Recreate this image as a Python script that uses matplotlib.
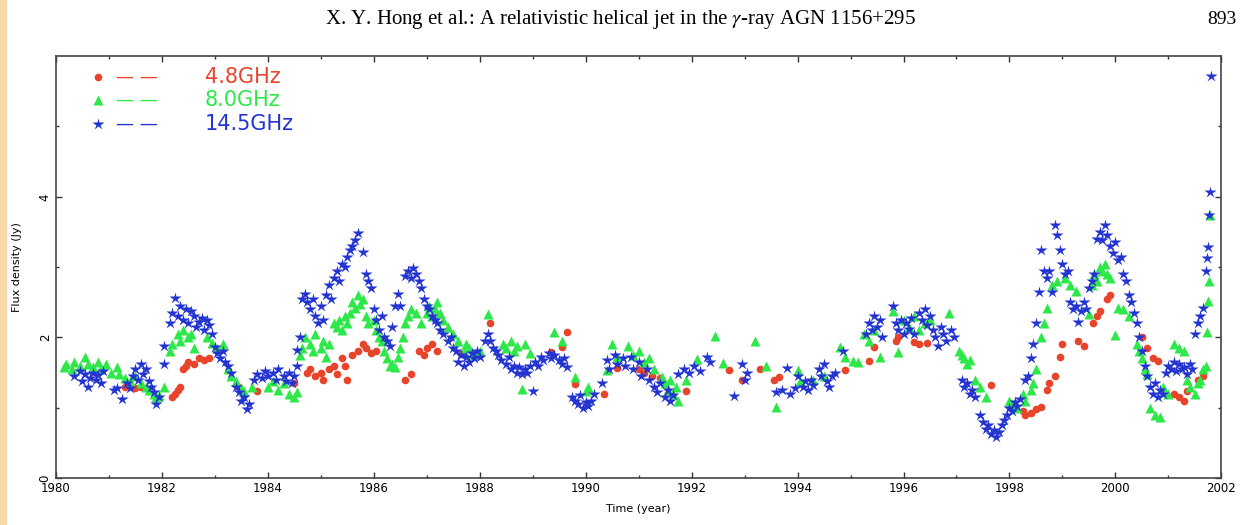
import matplotlib.pyplot as plt
from matplotlib.patches import Rectangle
from matplotlib.ticker import FixedLocator, MultipleLocator

plt.rcParams['font.family'] = 'DejaVu Sans'
plt.rcParams['mathtext.fontset'] = 'stix'

# Values (year, flux density in Jy)
red_t = [1981.3, 1981.4, 1981.5, 1981.6, 1982.2, 1982.25, 1982.3, 1982.35, 1982.4, 1982.45,
         1982.5, 1982.6, 1982.7, 1982.8, 1982.9, 1983.45, 1983.8, 1984.5, 1984.75, 1984.8,
         1984.9, 1985.0, 1985.05, 1985.15, 1985.25, 1985.3, 1985.4, 1985.45, 1985.5, 1985.6,
         1985.7, 1985.8, 1985.85, 1985.95, 1986.05, 1986.6, 1986.7, 1986.85, 1986.95, 1987.0,
         1987.1, 1987.2, 1987.65, 1988.2, 1989.35, 1989.55, 1989.65, 1989.8, 1990.35, 1990.6,
         1991.0, 1991.1, 1991.25, 1991.4, 1991.9, 1992.7, 1992.95, 1993.3, 1993.55, 1993.65,
         1994.9, 1995.35, 1995.45, 1995.85, 1995.9, 1996.2, 1996.3, 1996.45, 1997.65, 1998.25,
         1998.3, 1998.4, 1998.5, 1998.6, 1998.7, 1998.75, 1998.85, 1998.95, 1999.0, 1999.3,
         1999.4, 1999.57, 1999.65, 1999.7, 1999.85, 1999.9, 2000.5, 2000.6, 2000.7, 2000.8,
         2001.1, 2001.2, 2001.3, 2001.35, 2001.55, 2001.65]
red_s = [1.30, 1.32, 1.28, 1.30, 1.15, 1.20, 1.25, 1.29, 1.55, 1.60,
         1.65, 1.62, 1.70, 1.68, 1.70, 1.30, 1.24, 1.35, 1.50, 1.55,
         1.45, 1.50, 1.40, 1.55, 1.60, 1.48, 1.70, 1.60, 1.40, 1.75,
         1.80, 1.90, 1.85, 1.78, 1.80, 1.40, 1.48, 1.80, 1.75, 1.85,
         1.90, 1.80, 1.76, 2.21, 1.79, 1.86, 2.07, 1.34, 1.20, 1.57,
         1.55, 1.50, 1.45, 1.42, 1.24, 1.53, 1.39, 1.55, 1.40, 1.43,
         1.53, 1.67, 1.86, 1.95, 2.00, 1.93, 1.90, 1.92, 1.32, 0.95,
         0.90, 0.92, 0.98, 1.01, 1.25, 1.35, 1.45, 1.72, 1.90, 1.95,
         1.88, 2.20, 2.30, 2.37, 2.55, 2.61, 2.00, 1.85, 1.70, 1.67,
         1.20, 1.15, 1.10, 1.24, 1.40, 1.45]

green_t = [1980.15, 1980.2, 1980.3, 1980.35, 1980.45, 1980.55, 1980.6, 1980.7, 1980.8, 1980.85,
           1980.95, 1981.05, 1981.15, 1981.2, 1981.3, 1981.4, 1981.5, 1981.6, 1981.7, 1981.75,
           1981.85, 1981.9, 1981.95, 1982.05, 1982.15, 1982.2, 1982.3, 1982.35, 1982.4, 1982.5,
           1982.55, 1982.6, 1982.85, 1982.95, 1983.05, 1983.15, 1983.25, 1983.3, 1983.4, 1983.5,
           1983.55, 1983.7, 1984.0, 1984.1, 1984.2, 1984.3, 1984.4, 1984.5, 1984.55, 1984.6,
           1984.65, 1984.7, 1984.8, 1984.85, 1984.9, 1985.0, 1985.05, 1985.1, 1985.15, 1985.25,
           1985.3, 1985.35, 1985.4, 1985.45, 1985.5, 1985.55, 1985.6, 1985.65, 1985.7, 1985.75,
           1985.8, 1985.85, 1985.9, 1986.0, 1986.05, 1986.1, 1986.15, 1986.2, 1986.25, 1986.3,
           1986.35, 1986.4, 1986.45, 1986.5, 1986.55, 1986.6, 1986.65, 1986.7, 1986.8, 1986.9,
           1987.0, 1987.05, 1987.1, 1987.15, 1987.2, 1987.25, 1987.3, 1987.4, 1987.5, 1987.6,
           1987.7, 1987.75, 1987.8, 1987.9, 1988.0, 1988.15, 1988.45, 1988.5, 1988.6, 1988.65,
           1988.7, 1988.8, 1988.85, 1988.95, 1989.4, 1989.55, 1989.8, 1990.0, 1990.05, 1990.4,
           1990.5, 1990.6, 1990.8, 1990.9, 1991.0, 1991.1, 1991.2, 1991.3, 1991.45, 1991.5,
           1991.55, 1991.6, 1991.65, 1991.7, 1991.75, 1991.9, 1992.1, 1992.45, 1992.6, 1993.2,
           1993.4, 1993.6, 1994.0, 1994.05, 1994.3, 1994.5, 1994.8, 1994.9, 1995.05, 1995.15,
           1995.25, 1995.35, 1995.45, 1995.55, 1995.8, 1995.9, 1996.0, 1996.1, 1996.2, 1996.3,
           1996.4, 1996.5, 1996.85, 1997.05, 1997.1, 1997.15, 1997.2, 1997.25, 1997.35, 1997.45,
           1997.55, 1998.0, 1998.05, 1998.15, 1998.25, 1998.3, 1998.4, 1998.45, 1998.5, 1998.6,
           1998.65, 1998.7, 1998.8, 1998.9, 1999.05, 1999.15, 1999.25, 1999.5, 1999.55, 1999.6,
           1999.65, 1999.7, 1999.75, 1999.8, 1999.85, 1999.9, 2000.0, 2000.05, 2000.15, 2000.25,
           2000.4, 2000.45, 2000.5, 2000.55, 2000.6, 2000.65, 2000.75, 2000.85, 2000.9, 2001.0,
           2001.1, 2001.2, 2001.3, 2001.35, 2001.4, 2001.5, 2001.55, 2001.6, 2001.65, 2001.7,
           2001.72, 2001.74, 2001.76, 2001.78]
green_s = [1.58, 1.62, 1.55, 1.65, 1.60, 1.72, 1.62, 1.58, 1.65, 1.55,
           1.62, 1.50, 1.58, 1.48, 1.42, 1.38, 1.45, 1.35, 1.30, 1.25,
           1.20, 1.15, 1.18, 1.30, 1.80, 1.90, 2.05, 1.95, 2.10, 2.00,
           2.05, 1.85, 2.00, 1.92, 1.85, 1.90, 1.55, 1.45, 1.38, 1.28,
           1.24, 1.30, 1.30, 1.38, 1.25, 1.35, 1.20, 1.15, 1.22, 1.75,
           1.85, 2.00, 1.90, 1.80, 2.05, 1.85, 1.95, 1.72, 1.90, 2.20,
           2.15, 2.25, 2.10, 2.30, 2.20, 2.35, 2.50, 2.42, 2.60, 2.48,
           2.55, 2.30, 2.20, 2.25, 2.10, 2.00, 1.95, 1.80, 1.70, 1.60,
           1.62, 1.58, 1.72, 1.85, 2.00, 2.20, 2.30, 2.40, 2.35, 2.20,
           2.35, 2.45, 2.30, 2.40, 2.50, 2.35, 2.25, 2.15, 2.05, 1.95,
           1.80, 1.90, 1.85, 1.75, 1.80, 2.33, 1.90, 1.85, 1.95, 1.80,
           1.88, 1.27, 1.90, 1.78, 2.07, 1.95, 1.43, 1.24, 1.30, 1.53,
           1.90, 1.72, 1.88, 1.75, 1.80, 1.65, 1.70, 1.55, 1.43, 1.35,
           1.25, 1.40, 1.20, 1.30, 1.10, 1.39, 1.69, 2.02, 1.64, 1.95,
           1.60, 1.01, 1.53, 1.38, 1.40, 1.45, 1.86, 1.72, 1.67, 1.65,
           2.05, 1.95, 2.10, 1.72, 2.37, 1.79, 2.25, 2.15, 2.30, 2.10,
           2.20, 2.25, 2.35, 1.80, 1.75, 1.70, 1.62, 1.68, 1.40, 1.30,
           1.15, 1.10, 1.05, 1.00, 1.20, 1.10, 1.25, 1.35, 1.55, 2.00,
           2.20, 2.42, 2.75, 2.80, 2.85, 2.75, 2.66, 2.33, 2.75, 2.90,
           2.80, 3.00, 2.95, 3.05, 2.90, 2.85, 2.04, 2.42, 2.40, 2.30,
           1.90, 1.80, 1.70, 1.55, 1.48, 1.00, 0.90, 0.87, 1.30, 1.20,
           1.90, 1.85, 1.80, 1.40, 1.30, 1.20, 1.35, 1.40, 1.55, 1.60,
           2.07, 2.52, 2.80, 3.74]

blue_t = [1980.35, 1980.45, 1980.5, 1980.55, 1980.6, 1980.65, 1980.7, 1980.75, 1980.8, 1980.85,
          1980.9, 1981.1, 1981.15, 1981.25, 1981.35, 1981.4, 1981.45, 1981.5, 1981.55, 1981.6,
          1981.65, 1981.7, 1981.75, 1981.8, 1981.85, 1981.9, 1981.95, 1982.05, 1982.05, 1982.15,
          1982.2, 1982.25, 1982.3, 1982.35, 1982.4, 1982.45, 1982.5, 1982.55, 1982.6, 1982.65,
          1982.7, 1982.75, 1982.8, 1982.85, 1982.9, 1982.95, 1983.0, 1983.05, 1983.1, 1983.15,
          1983.2, 1983.25, 1983.3, 1983.4, 1983.45, 1983.5, 1983.55, 1983.6, 1983.65, 1983.75,
          1983.8, 1983.9, 1983.95, 1984.0, 1984.1, 1984.15, 1984.2, 1984.3, 1984.35, 1984.4,
          1984.45, 1984.5, 1984.55, 1984.55, 1984.6, 1984.65, 1984.7, 1984.75, 1984.8, 1984.85,
          1984.9, 1984.95, 1985.0, 1985.05, 1985.1, 1985.15, 1985.2, 1985.25, 1985.3, 1985.35,
          1985.4, 1985.45, 1985.5, 1985.55, 1985.6, 1985.65, 1985.7, 1985.8, 1985.85, 1985.9,
          1985.95, 1986.0, 1986.05, 1986.1, 1986.15, 1986.2, 1986.25, 1986.3, 1986.35, 1986.4,
          1986.45, 1986.5, 1986.6, 1986.65, 1986.7, 1986.75, 1986.8, 1986.85, 1986.9, 1986.95,
          1987.0, 1987.05, 1987.1, 1987.15, 1987.2, 1987.25, 1987.3, 1987.4, 1987.45, 1987.5,
          1987.55, 1987.6, 1987.65, 1987.7, 1987.75, 1987.8, 1987.85, 1987.9, 1987.95, 1988.0,
          1988.1, 1988.15, 1988.2, 1988.25, 1988.3, 1988.35, 1988.4, 1988.5, 1988.55, 1988.6,
          1988.65, 1988.7, 1988.75, 1988.8, 1988.85, 1988.9, 1988.95, 1989.0, 1989.05, 1989.1,
          1989.15, 1989.2, 1989.3, 1989.35, 1989.4, 1989.5, 1989.55, 1989.6, 1989.65, 1989.75,
          1989.8, 1989.85, 1989.9, 1989.95, 1990.0, 1990.05, 1990.1, 1990.15, 1990.3, 1990.4,
          1990.45, 1990.55, 1990.6, 1990.7, 1990.75, 1990.85, 1990.9, 1991.0, 1991.05, 1991.15,
          1991.2, 1991.3, 1991.35, 1991.4, 1991.5, 1991.55, 1991.6, 1991.65, 1991.75, 1991.85,
          1991.95, 1992.05, 1992.15, 1992.3, 1992.35, 1992.8, 1992.95, 1993.0, 1993.05, 1993.6,
          1993.7, 1993.8, 1993.85, 1993.95, 1994.0, 1994.1, 1994.15, 1994.2, 1994.25, 1994.3,
          1994.4, 1994.45, 1994.5, 1994.55, 1994.6, 1994.65, 1994.7, 1994.85, 1995.3, 1995.35,
          1995.4, 1995.45, 1995.5, 1995.55, 1995.6, 1995.8, 1995.85, 1995.9, 1995.95, 1996.0,
          1996.05, 1996.1, 1996.15, 1996.2, 1996.3, 1996.35, 1996.4, 1996.45, 1996.5, 1996.55,
          1996.6, 1996.65, 1996.7, 1996.75, 1996.8, 1996.9, 1996.95, 1997.1, 1997.15, 1997.2,
          1997.25, 1997.3, 1997.35, 1997.45, 1997.5, 1997.55, 1997.6, 1997.65, 1997.7, 1997.75,
          1997.8, 1997.85, 1997.9, 1997.95, 1998.0, 1998.05, 1998.1, 1998.15, 1998.2, 1998.3,
          1998.35, 1998.4, 1998.45, 1998.5, 1998.55, 1998.6, 1998.65, 1998.7, 1998.75, 1998.8,
          1998.85, 1998.9, 1998.95, 1999.0, 1999.05, 1999.1, 1999.15, 1999.2, 1999.25, 1999.3,
          1999.35, 1999.4, 1999.45, 1999.5, 1999.55, 1999.6, 1999.65, 1999.7, 1999.75, 1999.8,
          1999.85, 1999.9, 1999.95, 2000.0, 2000.05, 2000.1, 2000.15, 2000.2, 2000.25, 2000.3,
          2000.35, 2000.4, 2000.45, 2000.5, 2000.55, 2000.6, 2000.65, 2000.7, 2000.75, 2000.8,
          2000.85, 2000.9, 2000.95, 2001.0, 2001.05, 2001.1, 2001.15, 2001.2, 2001.25, 2001.3,
          2001.35, 2001.4, 2001.45, 2001.5, 2001.55, 2001.6, 2001.65, 2001.7, 2001.72, 2001.74,
          2001.76, 2001.78, 2001.8]
blue_s = [1.45, 1.52, 1.38, 1.48, 1.30, 1.42, 1.50, 1.40, 1.46, 1.35,
          1.52, 1.25, 1.28, 1.13, 1.35, 1.28, 1.45, 1.55, 1.40, 1.62,
          1.48, 1.55, 1.38, 1.30, 1.22, 1.05, 1.15, 1.62, 1.88, 2.20,
          2.35, 2.56, 2.30, 2.45, 2.25, 2.40, 2.20, 2.38, 2.30, 2.15,
          2.22, 2.28, 2.10, 2.25, 2.18, 2.05, 1.86, 1.78, 1.70, 1.80,
          1.65, 1.60, 1.50, 1.30, 1.22, 1.10, 1.15, 0.98, 1.05, 1.40,
          1.48, 1.42, 1.52, 1.45, 1.50, 1.40, 1.55, 1.45, 1.38, 1.50,
          1.35, 1.45, 1.60, 1.82, 2.00, 2.55, 2.62, 2.50, 2.40, 2.55,
          2.30, 2.20, 2.45, 2.25, 2.60, 2.75, 2.55, 2.85, 2.95, 2.80,
          3.05, 3.00, 3.15, 3.25, 3.30, 3.38, 3.48, 3.22, 2.90, 2.80,
          2.70, 2.40, 2.25, 2.10, 2.30, 2.00, 1.95, 1.88, 2.15, 2.45,
          2.62, 2.45, 2.88, 2.95, 2.85, 2.98, 2.90, 2.80, 2.70, 2.55,
          2.45, 2.40, 2.30, 2.25, 2.20, 2.10, 2.05, 1.95, 2.00, 1.85,
          1.80, 1.65, 1.75, 1.60, 1.72, 1.65, 1.78, 1.70, 1.80, 1.72,
          1.95, 2.05, 1.95, 1.85, 1.80, 1.75, 1.68, 1.62, 1.72, 1.55,
          1.60, 1.50, 1.58, 1.48, 1.55, 1.50, 1.60, 1.24, 1.65, 1.60,
          1.72, 1.68, 1.78, 1.70, 1.75, 1.68, 1.62, 1.70, 1.58, 1.15,
          1.10, 1.05, 1.18, 1.00, 1.08, 1.02, 1.10, 1.20, 1.35, 1.68,
          1.55, 1.75, 1.62, 1.70, 1.60, 1.72, 1.55, 1.65, 1.45, 1.55,
          1.40, 1.30, 1.22, 1.35, 1.15, 1.25, 1.10, 1.18, 1.48, 1.55,
          1.50, 1.60, 1.52, 1.72, 1.65, 1.17, 1.62, 1.40, 1.50, 1.22,
          1.25, 1.57, 1.20, 1.28, 1.45, 1.30, 1.38, 1.25, 1.40, 1.32,
          1.55, 1.45, 1.62, 1.38, 1.30, 1.45, 1.50, 1.80, 2.05, 2.20,
          2.10, 2.30, 2.15, 2.25, 2.00, 2.45, 2.20, 2.10, 2.25, 2.05,
          2.20, 2.12, 2.28, 2.05, 2.35, 2.25, 2.40, 2.18, 2.30, 2.10,
          2.00, 1.88, 2.15, 2.05, 1.95, 2.10, 2.00, 1.40, 1.30, 1.35,
          1.20, 1.25, 1.15, 0.90, 0.80, 0.70, 0.75, 0.62, 0.68, 0.58,
          0.65, 0.75, 0.82, 0.90, 1.00, 0.95, 1.08, 1.02, 1.12, 1.40,
          1.45, 1.70, 1.90, 2.20, 2.65, 3.25, 2.95, 2.85, 2.95, 2.65,
          3.60, 3.45, 3.25, 3.05, 2.90, 2.95, 2.50, 2.40, 2.45, 2.22,
          2.38, 2.50, 2.40, 2.70, 2.80, 2.90, 3.40, 3.50, 3.38, 3.60,
          3.45, 3.30, 3.20, 3.35, 3.10, 3.15, 2.90, 2.80, 2.60, 2.50,
          2.35, 2.20, 2.00, 1.80, 1.60, 1.45, 1.30, 1.20, 1.35, 1.15,
          1.25, 1.20, 1.50, 1.60, 1.55, 1.65, 1.52, 1.62, 1.55, 1.58,
          1.48, 1.62, 1.55, 2.05, 2.20, 2.30, 2.42, 2.94, 3.13, 3.29,
          3.74, 4.07, 5.72]

labels = ['4.8GHz', '8.0GHz', '14.5GHz']
colors = ['#e8432b', '#2ee84a', '#2233d0']
yticks = [0, 2, 4]

fig = plt.figure(figsize=(12.4, 5.25), dpi=100)
ax = fig.add_axes([0.045, 0.0895, 0.94, 0.8035])

ax.plot(red_t, red_s, 'o', ms=5.5, color=colors[0], mec='none', zorder=3)
ax.plot(green_t, green_s, '^', ms=7, color=colors[1], mec='none', zorder=4)
ax.plot(blue_t, blue_s, '*', ms=9, color=colors[2], mec='none', zorder=5)

ax.set_xlim(1980, 2002)
ax.set_ylim(0, 6)
ax.xaxis.set_major_locator(MultipleLocator(2))
ax.xaxis.set_minor_locator(MultipleLocator(1))
ax.yaxis.set_major_locator(FixedLocator(yticks))
ax.yaxis.set_minor_locator(FixedLocator([1, 3, 5]))
ax.tick_params(which='both', direction='in', top=True, right=True, color='#333333')
ax.tick_params(which='major', length=4, width=1, labelsize=8.5, pad=3)
ax.tick_params(which='minor', length=2.5, width=1)
for lab in ax.get_yticklabels():
    lab.set_rotation(90)
    lab.set_va('center')
for sp in ax.spines.values():
    sp.set_color('#444444')
    sp.set_linewidth(1.2)

ax.set_xlabel('Time (year)', fontsize=8, labelpad=6)
ax.set_ylabel('Flux density (Jy)', fontsize=8, labelpad=12)

# legend: marker, dashes, coloured label
markers = [('o', 5.5), ('^', 7), ('*', 9)]
for i, (lab, c) in enumerate(zip(labels, colors)):
    yy = 0.95 - i * 0.055
    ax.plot([0.036], [yy], markers[i][0], ms=markers[i][1], color=c, mec='none',
            transform=ax.transAxes, clip_on=False)
    ax.text(0.052, yy, '— —', color=c, fontsize=13, va='center', transform=ax.transAxes)
    ax.text(0.128, yy, lab, color=c, fontsize=15, va='center', transform=ax.transAxes)

# page header and left border of the scan
fig.text(0.5, 0.963, r'X. Y. Hong et al.: A relativistic helical jet in the $\gamma$-ray AGN 1156+295',
         family='Liberation Serif', fontsize=15, ha='center', va='center')
fig.text(0.997, 0.963, '893', family='Liberation Serif', fontsize=14, ha='right', va='center')
fig.patches.append(Rectangle((0, 0), 6 / 1240, 1, transform=fig.transFigure,
                             color='#f6d9a6', zorder=0))

fig.savefig('out.png', dpi=100)
